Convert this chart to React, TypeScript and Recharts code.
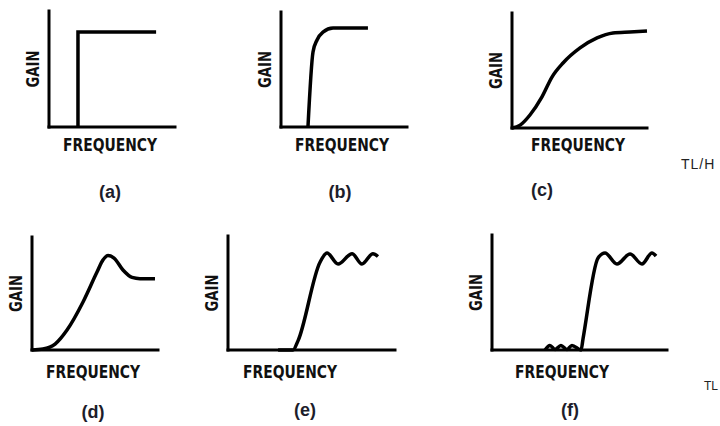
import { LineChart, Line, XAxis, YAxis } from 'recharts';

// (a) ideal brick wall
const freqA = [23, 23, 85];
const gainA = [0, 82, 82];

// (b) steep practical response
const freqB = [21.4, 25.4, 28.6, 33.3, 41.3, 69];
const gainB = [0, 65.2, 75.7, 82.6, 86.1, 86.1];

// (c) gentle roll-off
const freqC = [0, 6, 13.3, 22.2, 29.6, 37.8, 50.4, 63, 74.8, 87.4, 100];
const gainC = [0, 2.5, 11.3, 27, 44.3, 56.5, 69.6, 78.3, 82.6, 83.5, 84.3];

// (d) peaking response
const freqD = [0, 8.7, 18.3, 27.8, 40.5, 51.6, 56.3, 60.3, 65.1, 72.2, 79.4, 85.7, 97.6];
const gainD = [0, 0.9, 5.3, 17.7, 42.5, 69, 79.6, 83.6, 81.4, 70.8, 64.2, 63.1, 63.1];

// (e) passband ripple
const freqE = [30, 38.9, 41.9, 55.1, 59.3, 65.9, 74.3, 80.2, 86.8, 89.8];
const gainE = [0, 0, 8, 77, 85, 75.4, 84.5, 75.4, 84.5, 82];

// (f) passband and stopband ripple
const freqF = [30.3, 33.1, 36, 39.4, 42.9, 45.7, 50.9, 52, 60.6, 64.6, 71.4, 78.9, 85.7, 91.4, 93.7];
const gainF = [0, 4, 0.5, 4, 0.5, 4, 0, 9.6, 80, 84.3, 74.8, 83.5, 74.8, 84.3, 81.7];

const letters = ['(a)', '(b)', '(c)', '(d)', '(e)', '(f)'];

type Pt = { f: number; g: number };
const zip = (f: number[], g: number[]): Pt[] => f.map((v, i) => ({ f: v, g: g[i] }));

const LABEL_FONT = '"Liberation Sans Narrow", "DejaVu Sans Condensed", "Liberation Sans", sans-serif';
const LETTER_FONT = '"Liberation Sans", Arial, sans-serif';

interface PanelProps {
  x0: number;
  x1: number;
  top: number;
  bottom: number;
  data: Pt[];
  curve: 'linear' | 'monotone';
  freqX: number;
  freqDy: number;
  letter: string;
  letterX: number;
  letterY: number;
}

const padL = 40;
const padT = 6;
const padR = 8;
const padB = 80;

function Panel({ x0, x1, top, bottom, data, curve, freqX, freqDy, letter, letterX, letterY }: PanelProps) {
  const w = x1 - x0 + padL + padR;
  const h = bottom - top + padT + padB;
  const plotH = bottom - top;

  const texts = () => (
    <g>
      <text
        x={freqX - x0 + padL}
        y={padT + plotH + freqDy}
        textAnchor="middle"
        dominantBaseline="central"
        fontFamily={LABEL_FONT}
        fontWeight={700}
        fontSize={17}
        fill="#111"
        textLength={94}
        lengthAdjust="spacingAndGlyphs"
      >
        FREQUENCY
      </text>
      <text
        x={letterX - x0 + padL}
        y={letterY - top + padT}
        textAnchor="middle"
        dominantBaseline="central"
        fontFamily={LETTER_FONT}
        fontWeight={700}
        fontSize={18}
        fill="#1d1d2b"
      >
        {letter}
      </text>
    </g>
  );

  const gain = () => (
    <text
      x={padL - 16}
      y={padT + plotH / 2}
      transform={`rotate(-90 ${padL - 16} ${padT + plotH / 2})`}
      textAnchor="middle"
      dominantBaseline="central"
      fontFamily={LABEL_FONT}
      fontWeight={700}
      fontSize={17}
      fill="#111"
      textLength={37}
      lengthAdjust="spacingAndGlyphs"
    >
      GAIN
    </text>
  );

  return (
    <div style={{ position: 'absolute', left: x0 - padL, top: top - padT }}>
      <LineChart
        width={w}
        height={h}
        data={data}
        margin={{ top: padT, right: padR, bottom: padB - 1, left: padL - 1 }}
      >
        <XAxis
          type="number"
          dataKey="f"
          domain={[0, 100]}
          height={1}
          tick={false}
          tickLine={false}
          axisLine={{ stroke: '#000', strokeWidth: 3, strokeLinecap: 'square' }}
          label={{ content: texts }}
        />
        <YAxis
          type="number"
          domain={[0, 100]}
          width={1}
          tick={false}
          tickLine={false}
          axisLine={{ stroke: '#000', strokeWidth: 3, strokeLinecap: 'square' }}
          label={{ content: gain }}
        />
        <Line
          dataKey="g"
          type={curve}
          stroke="#000"
          strokeWidth={3.5}
          dot={false}
          activeDot={false}
          isAnimationActive={false}
        />
      </LineChart>
    </div>
  );
}

export default function App() {
  return (
    <div
      style={{
        position: 'absolute',
        left: 0,
        top: 0,
        width: 720,
        height: 426,
        background: '#fff',
        overflow: 'hidden',
      }}
    >
      <Panel x0={49} x1={175} top={11} bottom={127} data={zip(freqA, gainA)} curve="linear"
        freqX={110} freqDy={18} letter={letters[0]} letterX={110} letterY={192} />
      <Panel x0={281} x1={407} top={12} bottom={127} data={zip(freqB, gainB)} curve="monotone"
        freqX={342} freqDy={18} letter={letters[1]} letterX={340} letterY={192} />
      <Panel x0={512} x1={647} top={13} bottom={128} data={zip(freqC, gainC)} curve="monotone"
        freqX={578} freqDy={17} letter={letters[2]} letterX={542} letterY={190} />
      <Panel x0={32} x1={158} top={237} bottom={350} data={zip(freqD, gainD)} curve="monotone"
        freqX={93} freqDy={22} letter={letters[3]} letterX={93} letterY={412} />
      <Panel x0={228} x1={395} top={236} bottom={350} data={zip(freqE, gainE)} curve="monotone"
        freqX={290} freqDy={22} letter={letters[4]} letterX={305} letterY={410} />
      <Panel x0={492} x1={667} top={235} bottom={350} data={zip(freqF, gainF)} curve="monotone"
        freqX={562} freqDy={22} letter={letters[5]} letterX={570} letterY={410} />
      <div style={{ position: 'absolute', left: 681, top: 156, fontFamily: LETTER_FONT, fontSize: 14, letterSpacing: 1, color: '#222', whiteSpace: 'nowrap' }}>
        TL/H
      </div>
      <div style={{ position: 'absolute', left: 704, top: 379, fontFamily: LETTER_FONT, fontSize: 12, color: '#222', whiteSpace: 'nowrap' }}>
        TL
      </div>
    </div>
  );
}
